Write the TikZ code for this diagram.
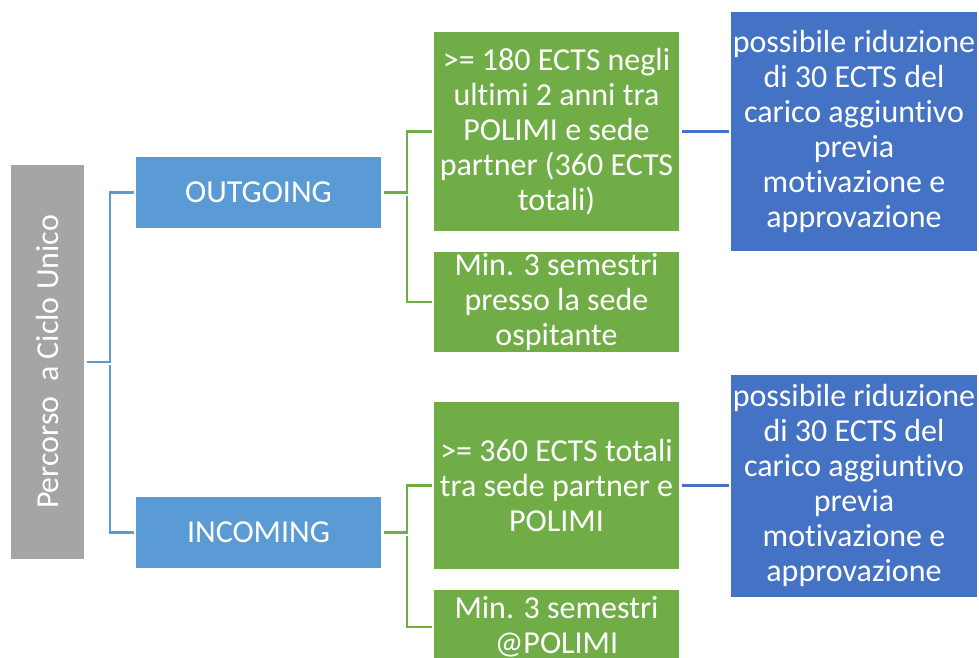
\documentclass[tikz,border=0pt]{standalone}
\usepackage{fontspec}
\setmainfont{Carlito}[Ligatures=NoCommon]
\usepackage{xcolor}
\usetikzlibrary{positioning}

\definecolor{rootgray}{HTML}{A5A5A5}
\definecolor{midblue}{HTML}{5B9BD5}
\definecolor{leafgreen}{HTML}{70AD47}
\definecolor{darkblue}{HTML}{4472C4}

\begin{document}
\begin{tikzpicture}[x=1pt, y=-1pt,
    box/.style={inner sep=0pt, text=white, align=center,
        font=\fontsize{32}{35}\selectfont, minimum width=245pt},
    rootbox/.style={box, fill=rootgray, minimum width=73pt, minimum height=394pt},
    dirbox/.style={box, fill=midblue, minimum height=71pt},
    reqbox/.style={box, fill=leafgreen},
    notebox/.style={box, fill=darkblue},
    link/.style={line width=2.2pt, shorten <=3pt, shorten >=2pt},
]
    \useasboundingbox (0,0) rectangle (979,657);

    % Root
    \node[rootbox] (perc) at (47.5, 362)
        {\rotatebox{90}{Percorso\ \ a Ciclo Unico}};

    % Directions
    \node[dirbox] (out) at (258.5, 192.5) {OUTGOING};
    \node[dirbox] (inc) at (258.5, 532.5) {INCOMING};

    % Requirements
    \node[reqbox, minimum height=199pt] (req1) at (556.5, 131.5)
        {>= 180 ECTS negli\\ultimi 2 anni tra\\POLIMI e sede\\partner (360 ECTS\\totali)};
    \node[reqbox, minimum height=100pt] (req2) at (556.5, 302)
        {Min. 3 semestri\\presso la sede\\ospitante};
    \node[reqbox, minimum height=167pt] (req3) at (556.5, 485.5)
        {>= 360 ECTS totali\\tra sede partner e\\POLIMI};
    \node[reqbox, minimum height=74pt] (req4) at (556.5, 627)
        {Min. 3 semestri\\@POLIMI};

    % Notes
    \node[notebox, minimum width=246pt, minimum height=239pt] (note1) at (854, 131.5)
        {possibile riduzione\\di 30 ECTS del\\carico aggiuntivo\\previa\\motivazione e\\approvazione};
    \node[notebox, minimum width=246pt, minimum height=222pt] (note2) at (854, 485.5)
        {possibile riduzione\\di 30 ECTS del\\carico aggiuntivo\\previa\\motivazione e\\approvazione};

    % Connectors
    \coordinate (jroot) at (110, 362);
    \coordinate (jout) at (407, 192.5);
    \coordinate (jinc) at (407, 532.5);

    \draw[link, midblue] (perc.east) -- (jroot) |- (out.west);
    \draw[link, midblue] (jroot) |- (inc.west);

    \draw[link, leafgreen] (out.east) -- (jout) |- (req1.west);
    \draw[link, leafgreen] (jout) |- (req2.west);
    \draw[link, leafgreen] (inc.east) -- (jinc) |- (req3.west);
    \draw[link, leafgreen] (jinc) |- (req4.west);

    \draw[link, darkblue] (req1.east) -- (note1.west);
    \draw[link, darkblue] (req3.east) -- (note2.west);
\end{tikzpicture}
\end{document}
